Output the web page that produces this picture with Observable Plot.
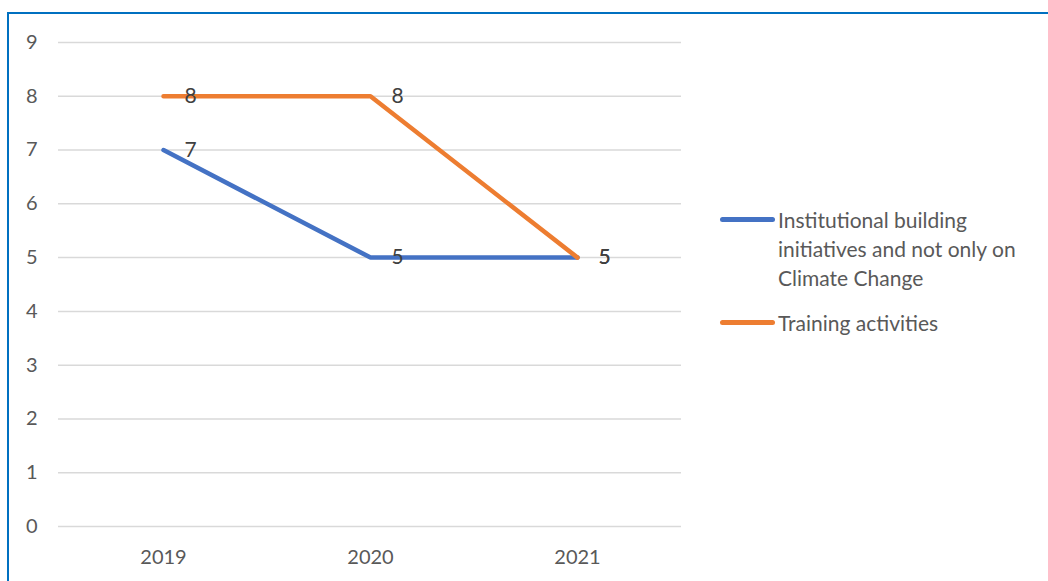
<!DOCTYPE html>
<html>
<head>
<meta charset="utf-8">
<script src="https://cdn.jsdelivr.net/npm/d3@7"></script>
<script src="https://cdn.jsdelivr.net/npm/@observablehq/plot@0.6"></script>
<style>
  html, body { margin: 0; padding: 0; background: #fff; }
  #wrap { position: relative; width: 1048px; height: 581px; overflow: hidden; font-family: Lato, "Open Sans", sans-serif; }
  #frame { position: absolute; left: 7px; top: 12px; width: 1100px; height: 650px;
           border-left: 2px solid #0070C0; border-top: 2px solid #0070C0; pointer-events: none; }
  #chart { position: absolute; left: 0; top: 0; }
  .legend { position: absolute; left: 720px; color: #595959; font-size: 21px; line-height: 29px; }
  .legend .item { position: relative; padding-left: 58px; margin-bottom: 16px; width: 264px; }
  .legend .swatch { position: absolute; left: 0; top: 12px; width: 55px; height: 5px; border-radius: 3px; }
</style>
</head>
<body>
<div id="wrap">
  <div id="chart"></div>
  <div id="frame"></div>
  <div class="legend" id="legend" style="top:205px"></div>
</div>
<script>
// Years on the x axis
const years = ["2019", "2020", "2021"];
// Series names and values
const seriesNames = ["Institutional building initiatives and not only on Climate Change", "Training activities"];
const institutional = [7, 5, 5];
const training = [8, 8, 5];
const seriesColors = ["#4472C4", "#ED7D31"];
const yTicks = [0, 1, 2, 3, 4, 5, 6, 7, 8, 9];

const rows = [];
[institutional, training].forEach((vals, si) => {
  vals.forEach((v, i) => rows.push({ year: years[i], value: v, series: seriesNames[si] }));
});

const chart = Plot.plot({
  width: 1048,
  height: 581,
  marginLeft: 58,
  marginRight: 367,
  marginTop: 42,
  marginBottom: 55,
  style: { fontFamily: "Lato, 'Open Sans', sans-serif", fontSize: "20px", color: "#595959", background: "transparent" },
  x: { type: "point", domain: years, padding: 0.5 },
  y: { domain: [0, 9] },
  color: { domain: seriesNames, range: seriesColors },
  marks: [
    Plot.ruleY(yTicks, { stroke: "#d9d9d9", strokeWidth: 1.5 }),
    Plot.axisY({ ticks: yTicks, tickSize: 0, tickPadding: 21, label: null, fill: "#595959" }),
    Plot.axisX({ tickSize: 0, tickPadding: 23, label: null, fill: "#595959" }),
    Plot.line(rows, { x: "year", y: "value", z: "series", stroke: "series", strokeWidth: 4.5, strokeLinecap: "round", strokeLinejoin: "miter" }),
    Plot.text(rows, { x: "year", y: "value", text: d => String(d.value), textAnchor: "start", dx: 21, fill: "#404040", fontSize: 21 })
  ]
});
document.getElementById("chart").appendChild(chart);

// Legend to the right of the plot area
const legend = document.getElementById("legend");
seriesNames.forEach((name, i) => {
  const item = document.createElement("div");
  item.className = "item";
  const sw = document.createElement("div");
  sw.className = "swatch";
  sw.style.background = seriesColors[i];
  item.appendChild(sw);
  item.appendChild(document.createTextNode(name));
  legend.appendChild(item);
});
</script>
</body>
</html>
